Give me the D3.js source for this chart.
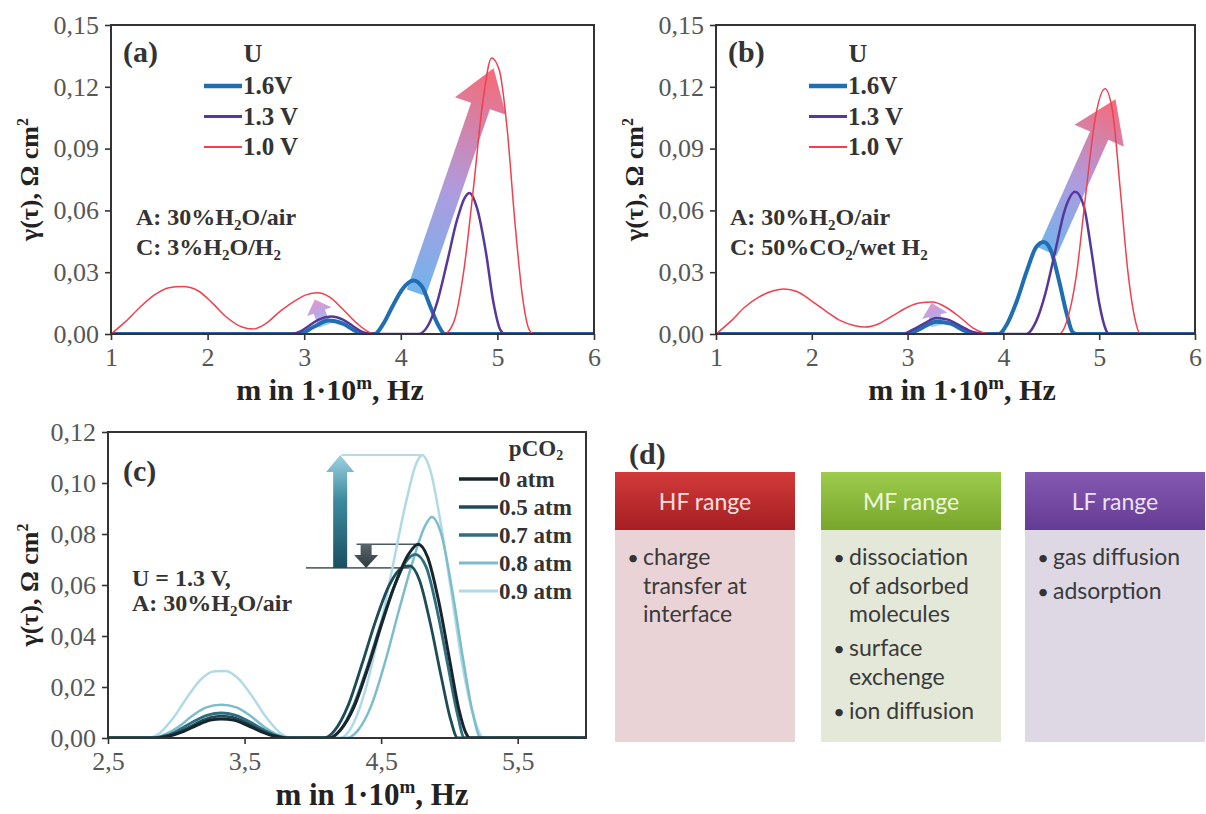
<!DOCTYPE html>
<html><head><meta charset="utf-8">
<script src="https://cdn.jsdelivr.net/npm/d3@7"></script>
<style>body{margin:0;background:#fff} svg{display:block}</style>
</head><body><svg id="c" width="1206" height="814"></svg>
<script>
// ---------------- DATA ----------------
const voltages = ["1.6V", "1.3 V", "1.0 V"];
const pco2 = ["0 atm", "0.5 atm", "0.7 atm", "0.8 atm", "0.9 atm"];
const abXTicks = [1, 2, 3, 4, 5, 6];
const abYTicks = [0, 0.03, 0.06, 0.09, 0.12, 0.15];
const cXTicks = [2.5, 3.5, 4.5, 5.5];
const cYTicks = [0, 0.02, 0.04, 0.06, 0.08, 0.10, 0.12];

// panel (a)
const a16 = [[1,0],[2.95,0],[3.1,0.0035],[3.25,0.0065],[3.4,0.005],[3.55,0.001],[3.68,0],[3.73,0],[3.82,0.005],[3.92,0.014],[4.02,0.022],[4.13,0.026],[4.22,0.023],[4.3,0.014],[4.38,0.005],[4.46,0],[6,0]];
const a13 = [[1,0],[2.85,0],[2.95,0.001],[3.05,0.004],[3.15,0.007],[3.28,0.0085],[3.4,0.007],[3.5,0.004],[3.6,0.001],[3.68,0],[4.18,0],[4.28,0.004],[4.38,0.016],[4.48,0.035],[4.58,0.055],[4.66,0.066],[4.71,0.0685],[4.79,0.061],[4.88,0.04],[4.96,0.015],[5.03,0.002],[5.08,0],[6,0]];
const a10 = [[1,0],[1.15,0.006],[1.3,0.013],[1.45,0.019],[1.6,0.0225],[1.74,0.023],[1.9,0.021],[2.05,0.015],[2.2,0.008],[2.35,0.0035],[2.47,0.0024],[2.6,0.005],[2.75,0.011],[2.9,0.016],[3.02,0.019],[3.14,0.020],[3.26,0.018],[3.4,0.012],[3.55,0.005],[3.69,0.0005],[3.75,0],[4.45,0],[4.55,0.006],[4.65,0.03],[4.75,0.07],[4.85,0.113],[4.94,0.134],[5.02,0.128],[5.1,0.1],[5.18,0.055],[5.26,0.018],[5.33,0.002],[5.38,0],[6,0]];
// panel (b)
const b16 = [[1,0],[3.0,0],[3.15,0.003],[3.3,0.006],[3.45,0.005],[3.6,0.0015],[3.75,0],[3.95,0],[4.04,0.005],[4.14,0.016],[4.24,0.03],[4.34,0.042],[4.42,0.0447],[4.5,0.04],[4.58,0.026],[4.66,0.01],[4.72,0.001],[4.76,0],[6,0]];
const b13 = [[1,0],[2.95,0],[3.05,0.002],[3.17,0.005],[3.3,0.0078],[3.42,0.007],[3.55,0.004],[3.68,0.001],[3.8,0],[4.24,0],[4.34,0.006],[4.44,0.02],[4.54,0.04],[4.64,0.06],[4.75,0.069],[4.84,0.062],[4.92,0.04],[5.0,0.015],[5.07,0.002],[5.1,0],[6,0]];
const b10 = [[1,0],[1.15,0.006],[1.3,0.013],[1.45,0.018],[1.6,0.021],[1.71,0.0218],[1.85,0.0205],[2.0,0.016],[2.15,0.011],[2.3,0.0065],[2.45,0.004],[2.56,0.0034],[2.7,0.005],[2.85,0.009],[3.0,0.013],[3.12,0.015],[3.26,0.0155],[3.4,0.013],[3.55,0.008],[3.68,0.003],[3.8,0.0005],[3.88,0],[4.58,0],[4.66,0.006],[4.76,0.028],[4.86,0.068],[4.96,0.105],[5.06,0.119],[5.14,0.108],[5.22,0.07],[5.3,0.03],[5.37,0.008],[5.43,0],[6,0]];
// panel (c)
const c00 = [[2.5,0],[2.85,0],[2.95,0.0008],[3.05,0.0025],[3.15,0.005],[3.25,0.007],[3.33,0.0075],[3.42,0.007],[3.52,0.005],[3.62,0.0025],[3.72,0.0007],[3.8,0],[4.12,0],[4.2,0.003],[4.3,0.012],[4.4,0.027],[4.5,0.044],[4.6,0.06],[4.7,0.072],[4.77,0.076],[4.84,0.071],[4.92,0.054],[5.0,0.031],[5.07,0.011],[5.12,0.002],[5.15,0],[6,0]];
const c05 = [[2.5,0],[2.85,0],[2.95,0.001],[3.05,0.003],[3.15,0.0058],[3.25,0.008],[3.33,0.0086],[3.42,0.008],[3.52,0.0058],[3.62,0.003],[3.72,0.0008],[3.8,0],[4.08,0],[4.16,0.003],[4.26,0.013],[4.36,0.029],[4.46,0.046],[4.56,0.06],[4.66,0.067],[4.71,0.0675],[4.78,0.062],[4.86,0.045],[4.94,0.024],[5.01,0.007],[5.06,0],[6,0]];
const c07 = [[2.5,0],[2.83,0],[2.93,0.001],[3.03,0.0035],[3.13,0.0066],[3.23,0.009],[3.33,0.0098],[3.43,0.009],[3.53,0.0066],[3.63,0.0035],[3.73,0.001],[3.82,0],[4.12,0],[4.2,0.003],[4.3,0.013],[4.4,0.028],[4.5,0.045],[4.6,0.06],[4.68,0.069],[4.75,0.072],[4.83,0.067],[4.91,0.05],[4.99,0.028],[5.06,0.009],[5.11,0],[6,0]];
const c08 = [[2.5,0],[2.82,0],[2.92,0.0015],[3.02,0.0045],[3.12,0.0088],[3.22,0.012],[3.33,0.013],[3.44,0.012],[3.54,0.0088],[3.64,0.0045],[3.74,0.0013],[3.83,0],[4.25,0],[4.33,0.003],[4.43,0.013],[4.53,0.03],[4.63,0.05],[4.73,0.069],[4.82,0.083],[4.87,0.0867],[4.94,0.08],[5.02,0.058],[5.1,0.031],[5.17,0.01],[5.23,0],[6,0]];
const c09 = [[2.5,0],[2.78,0],[2.88,0.002],[2.98,0.008],[3.08,0.016],[3.18,0.023],[3.28,0.0262],[3.36,0.0263],[3.46,0.023],[3.56,0.016],[3.66,0.008],[3.76,0.002],[3.85,0],[4.2,0],[4.28,0.004],[4.38,0.018],[4.48,0.04],[4.58,0.066],[4.68,0.092],[4.76,0.108],[4.8,0.111],[4.86,0.105],[4.94,0.083],[5.02,0.055],[5.1,0.027],[5.18,0.008],[5.25,0],[6,0]];

// arrows [tail m, tail y, head m, head y]
const aBigArrow = [4.16, 0.020, 4.96, 0.129];
const aSmallArrow = [3.21, 0.004, 3.11, 0.0168];
const bBigArrow = [4.46, 0.040, 5.17, 0.114];
const bSmallArrow = [3.31, 0.004, 3.25, 0.0150];
const cUpArrow = [4.2, 0.0667, 4.2, 0.111];
const cDownArrow = [4.39, 0.076, 4.39, 0.0667];
const cRefLines = [[4.21, 4.79, 0.111], [4.32, 4.77, 0.076], [3.95, 4.71, 0.0667]];

// panel (d)
const ranges = ["HF range", "MF range", "LF range"];
const rangeItems = [
  [["charge", "transfer at", "interface"]],
  [["dissociation", "of adsorbed", "molecules"], ["surface", "exchenge"], ["ion diffusion"]],
  [["gas diffusion"], ["adsorption"]]
];

// ---------------- DRAWING ----------------
const svg = d3.select('#c');
svg.append('rect').attr('width',1206).attr('height',814).attr('fill','#fff');
const defs = svg.append('defs');
const serif = "'Liberation Serif','Times New Roman',serif";
const vColors = ['#1f6eb3', '#57389a', '#f0404f'];
const vWidths = [4, 2.5, 1.5];
const cColors = ['#17262c', '#1e4b58', '#2f6e80', '#7bbccd', '#b0dae5'];
const cWidths = [3, 2.8, 2.8, 2.5, 2.5];

let gid = 0;
function grad(x1,y1,x2,y2,stops){
  const id = 'g'+(gid++);
  const lg = defs.append('linearGradient').attr('id',id).attr('gradientUnits','userSpaceOnUse')
    .attr('x1',x1).attr('y1',y1).attr('x2',x2).attr('y2',y2);
  stops.forEach(s=>lg.append('stop').attr('offset',s[0]).attr('stop-color',s[1]).attr('stop-opacity',s[2]));
  return 'url(#'+id+')';
}
function arrowPts(x1,y1,x2,y2,bw,hw,hl){
  const dx=x2-x1, dy=y2-y1, L=Math.hypot(dx,dy), ux=dx/L, uy=dy/L, px=-uy, py=ux;
  const bx=x2-ux*hl, by=y2-uy*hl;
  return [[x1+px*bw/2,y1+py*bw/2],[bx+px*bw/2,by+py*bw/2],[bx+px*hw/2,by+py*hw/2],[x2,y2],
          [bx-px*hw/2,by-py*hw/2],[bx-px*bw/2,by-py*bw/2],[x1-px*bw/2,y1-py*bw/2]];
}
function drawArrow(g,P,a,bw,hw,hl,stops){
  const x1=P.x(a[0]), y1=P.y(a[1]), x2=P.x(a[2]), y2=P.y(a[3]);
  g.append('polygon').attr('points',arrowPts(x1,y1,x2,y2,bw,hw,hl).map(p=>p.join(',')).join(' '))
   .attr('fill',grad(x1,y1,x2,y2,stops));
}

function panel(cfg){
  const x = d3.scaleLinear().domain(cfg.xDomain).range([cfg.left,cfg.right]);
  const y = d3.scaleLinear().domain(cfg.yDomain).range([cfg.bottom,cfg.top]);
  const g = svg.append('g');
  const cid = 'clip'+(gid++);
  defs.append('clipPath').attr('id',cid).append('rect')
    .attr('x',cfg.left).attr('y',cfg.top-2).attr('width',cfg.right-cfg.left).attr('height',cfg.bottom-cfg.top+2);
  const plot = g.append('g').attr('clip-path','url(#'+cid+')');
  const ay = d3.axisLeft(y).tickValues(cfg.yTicks).tickSize(6).tickPadding(6)
    .tickFormat(d=>d.toFixed(2).replace('.',','));
  const ax = d3.axisBottom(x).tickValues(cfg.xTicks).tickSize(6).tickPadding(8)
    .tickFormat(cfg.xFmt);
  const style = s=>{
    s.select('.domain').remove();
    s.selectAll('text').attr('font-family',serif).attr('font-size',26).attr('fill','#575757');
    s.selectAll('line').attr('stroke','#333').attr('stroke-width',1.6);
  };
  g.append('g').attr('transform',`translate(${cfg.left},0)`).call(ay).call(style);
  g.append('g').attr('transform',`translate(0,${cfg.bottom})`).call(ax).call(style);
  // titles
  const fs = cfg.xTitleSize;
  const xt = g.append('text').attr('x',cfg.xTitleX).attr('y',cfg.xTitleY).attr('text-anchor','middle')
    .attr('font-family',serif).attr('font-weight','bold').attr('font-size',fs).attr('fill','#222');
  xt.append('tspan').text('m in 1·10');
  xt.append('tspan').attr('font-size',Math.round(fs*0.62)).attr('dy',-Math.round(fs*0.38)).text('m');
  xt.append('tspan').attr('dy',Math.round(fs*0.38)).text(', Hz');
  const yt = g.append('text').attr('transform',`translate(${cfg.yTitleX},${(cfg.top+cfg.bottom)/2}) rotate(-90)`)
    .attr('text-anchor','middle').attr('font-family',serif).attr('font-weight','bold').attr('font-size',26).attr('fill','#222');
  yt.append('tspan').text('γ(τ), Ω cm');
  yt.append('tspan').attr('font-size',16).attr('dy',-10).text('2');
  return {x,y,g,plot,cfg};
}
function frame(P){
  const c=P.cfg;
  P.g.append('rect').attr('x',c.left).attr('y',c.top).attr('width',c.right-c.left).attr('height',c.bottom-c.top)
    .attr('fill','none').attr('stroke','#333').attr('stroke-width',2);
}
function curve(P,data,color,w){
  const line = d3.line().x(d=>P.x(d[0])).y(d=>P.y(d[1])).curve(d3.curveMonotoneX);
  P.plot.append('path').datum(data).attr('d',line).attr('fill','none').attr('stroke',color)
    .attr('stroke-width',w).attr('stroke-linejoin','round');
}
function btext(g,x,y,parts,size){
  const t = g.append('text').attr('x',x).attr('y',y).attr('font-family',serif).attr('font-weight','bold')
    .attr('font-size',size||24).attr('fill','#333');
  parts.forEach(p=>{
    if (typeof p === 'string') t.append('tspan').text(p);
    else t.append('tspan').attr('font-size',p.s).attr('dy',p.dy).text(p.t);
  });
  return t;
}

const bigStops = [[0,'#5aa6e8',0.85],[0.45,'#9f8ad8',0.85],[1,'#f65a68',0.9]];
const smallStops = [[0,'#8cc6f2',0.85],[0.5,'#b49be0',0.9],[1,'#e08ac8',0.9]];

// ---- panel (a) & (b)
const sub = t=>({t, s:15, dy:5});
const back = t=>({t, s:24, dy:-5});
function panelAB(cfg, data, big, small, label, condA, condC){
  const P = panel(cfg);
  drawArrow(P.plot,P,big,20,54,40,bigStops);
  drawArrow(P.plot,P,small,12,26,13,smallStops);
  data.forEach((d,i)=>curve(P,d,vColors[i],vWidths[i]));
  frame(P);
  const L = cfg.left;
  btext(P.g,L+12,62,[label],30);
  btext(P.g,L+142,62,['U'],26).attr('text-anchor','middle');
  voltages.forEach((v,i)=>{
    const yy = 86+i*30.5;
    P.g.append('line').attr('x1',L+93).attr('x2',L+131).attr('y1',yy).attr('y2',yy)
      .attr('stroke',vColors[i]).attr('stroke-width',vWidths[i]+0.5);
    btext(P.g,L+132,yy+8,[v],25);
  });
  btext(P.g,cfg.condX,225,condA,24);
  btext(P.g,cfg.condX,255,condC,24);
  return P;
}
const PA = panelAB({left:111,right:594,top:25,bottom:334,xDomain:[1,6],yDomain:[0,0.15],xTicks:abXTicks,yTicks:abYTicks,
  xFmt:d3.format('d'),xTitleX:330,xTitleY:400,xTitleSize:30,yTitleX:38,condX:136},
  [a16,a13,a10], aBigArrow, aSmallArrow, '(a)',
  ['A: 30%H', sub('2'), back('O/air')], ['C: 3%H', sub('2'), back('O/H'), sub('2')]);
const PB = panelAB({left:716,right:1195,top:25,bottom:334,xDomain:[1,6],yDomain:[0,0.15],xTicks:abXTicks,yTicks:abYTicks,
  xFmt:d3.format('d'),xTitleX:962,xTitleY:400,xTitleSize:30,yTitleX:643,condX:730},
  [b16,b13,b10], bBigArrow, bSmallArrow, '(b)',
  ['A: 30%H', sub('2'), back('O/air')], ['C: 50%CO', sub('2'), back('/wet H'), sub('2')]);

// ---- panel (c)
const PC = panel({left:108,right:586,top:432,bottom:738,xDomain:[2.5,6],yDomain:[0,0.12],xTicks:cXTicks,yTicks:cYTicks,
  xFmt:d=>d.toFixed(1).replace('.',','),xTitleX:372,xTitleY:805,xTitleSize:31,yTitleX:38});
cRefLines.forEach((r,i)=>{
  PC.plot.append('line').attr('x1',PC.x(r[0])).attr('x2',PC.x(r[1])).attr('y1',PC.y(r[2])).attr('y2',PC.y(r[2]))
    .attr('stroke',['#9fcfdc','#4a5a60','#5a6a70'][i]).attr('stroke-width',1.6);
});
drawArrow(PC.plot,PC,cUpArrow,14,28,17,[[0,'#1b4f60',1],[0.6,'#3d8aa0',1],[1,'#9fd2e0',1]]);
drawArrow(PC.plot,PC,cDownArrow,11,24,13,[[0,'#5a666c',1],[1,'#2f3a40',1]]);
[c09,c08,c07,c05,c00].forEach((d,k)=>{ const i=4-k; curve(PC,d,cColors[i],cWidths[i]); });
frame(PC);
btext(PC.g,123,481,['(c)'],30);
btext(PC.g,536,456,['pCO', {t:'2',s:14,dy:4}],23).attr('text-anchor','middle');
pco2.forEach((v,i)=>{
  const yy = 479+i*28;
  PC.g.append('line').attr('x1',459).attr('x2',498).attr('y1',yy).attr('y2',yy)
    .attr('stroke',cColors[i]).attr('stroke-width',cWidths[i]+0.7);
  btext(PC.g,499,yy+8,[v],23);
});
btext(PC.g,132,586,['U = 1.3 V,'],24);
btext(PC.g,132,611,['A: 30%H', sub('2'), back('O/air')],24);

// ---- panel (d)
const dg = svg.append('g');
btext(dg,629,464,['(d)'],30);
const boxX = [615, 821, 1025];
const hdr = [['#d23a3a','#a51f22'],['#9dcb4c','#78a62c'],['#8359b2','#653c95']];
const body = ['#ead3d6','#e3e8d9','#ddd8e4'];
const hdrText = ['#fbe0e0','#eef8dc','#ece2f7'];
ranges.forEach((r,i)=>{
  const x0 = boxX[i], w = 180;
  dg.append('rect').attr('x',x0).attr('y',530).attr('width',w).attr('height',212).attr('fill',body[i]);
  dg.append('rect').attr('x',x0).attr('y',472).attr('width',w).attr('height',58)
    .attr('fill',grad(0,472,0,530,[[0,hdr[i][0],1],[1,hdr[i][1],1]]));
  dg.append('text').attr('x',x0+w/2).attr('y',510).attr('text-anchor','middle').attr('font-family','Lato')
    .attr('font-size',23).attr('fill',hdrText[i]).text(r);
  let yy = 565;
  rangeItems[i].forEach(item=>{
    dg.append('text').attr('x',x0+18).attr('y',yy).attr('text-anchor','middle').attr('font-family','Lato')
      .attr('font-size',20).attr('fill','#333').text('•');
    item.forEach(line=>{
      dg.append('text').attr('x',x0+28).attr('y',yy).attr('font-family','Lato').attr('font-size',23)
        .attr('fill','#3a3a3a').text(line);
      yy += 28.5;
    });
    yy += 5.5;
  });
});
</script></body></html>
